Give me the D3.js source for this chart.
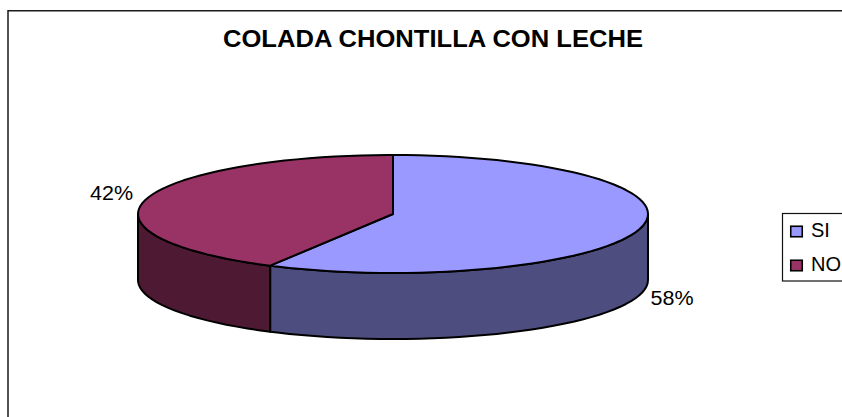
<!DOCTYPE html>
<html>
<head>
<meta charset="utf-8">
<script src="https://cdn.jsdelivr.net/npm/d3@7/dist/d3.min.js"></script>
<style>
html,body{margin:0;padding:0;background:#fff;overflow:hidden}
svg{display:block}
text{font-family:"Liberation Sans",Arial,sans-serif;fill:#000}
</style>
</head>
<body>
<svg id="chart" width="842" height="417"></svg>
<script>
const title = "COLADA CHONTILLA CON LECHE";
const categories = ["SI", "NO"];
const shares = [58, 42];
const topColors = ["#9999ff", "#993366"];
const sideColors = ["#4d4d80", "#4d1933"];

const svg = d3.select("#chart");

// Chart frame: top and left edges sit inside the window, the rest runs off it
svg.append("path")
  .attr("d", "M8,417V10.75H842")
  .attr("fill", "none").attr("stroke", "#1a1a1a").attr("stroke-width", 1.5);

svg.append("text").attr("x", 433).attr("y", 47)
  .attr("text-anchor", "middle").attr("font-size", 23).attr("font-weight", "bold")
  .attr("textLength", 420).attr("lengthAdjust", "spacingAndGlyphs")
  .text(title);

// Tilted disc: unit-circle coordinates mapped onto the ellipse through linear scales
const cx = 393, cy = 214, rx = 255, ry = 59, depth = 66;
const sx = d3.scaleLinear().domain([-1, 1]).range([cx - rx, cx + rx]);
const sy = d3.scaleLinear().domain([-1, 1]).range([cy - ry, cy + ry]);

const pie = d3.pie().sort(null).value(d => d.v);
const slices = pie(categories.map((c, i) => ({c, v: shares[i], i})));

const step = Math.PI / 60;
const rimPoints = (a0, a1) => {
  const pts = d3.range(a0, a1, step);
  pts.push(a1);
  return pts;
};
const px = a => sx(Math.sin(a));
const py = a => sy(-Math.cos(a));
const line = d3.line().x(d => d[0]).y(d => d[1]);

// Outer walls: only the part of the rim facing the viewer (angles from 90° to 270°)
slices.forEach(s => {
  const a0 = Math.max(s.startAngle, Math.PI / 2);
  const a1 = Math.min(s.endAngle, 3 * Math.PI / 2);
  if (a1 <= a0) return;
  const upper = rimPoints(a0, a1).map(a => [px(a), py(a)]);
  const lower = upper.slice().reverse().map(p => [p[0], p[1] + depth]);
  svg.append("path")
    .attr("d", line(upper.concat(lower)) + "Z")
    .attr("fill", sideColors[s.data.i])
    .attr("stroke", "#000").attr("stroke-width", 2).attr("stroke-linejoin", "round");
});

// Top face of each slice
slices.forEach(s => {
  const rim = rimPoints(s.startAngle, s.endAngle).map(a => [px(a), py(a)]);
  svg.append("path")
    .attr("d", line([[sx(0), sy(0)]].concat(rim)) + "Z")
    .attr("fill", topColors[s.data.i])
    .attr("stroke", "#000").attr("stroke-width", 2).attr("stroke-linejoin", "round");
});

// Percentage labels
const labelPos = [[672, 304.5], [111.5, 200]];
slices.forEach((s, k) => {
  svg.append("text").attr("x", labelPos[k][0]).attr("y", labelPos[k][1])
    .attr("text-anchor", "middle").attr("font-size", 20)
    .attr("textLength", 43).attr("lengthAdjust", "spacingAndGlyphs")
    .text(shares[k] + "%");
});

// Legend, clipped by the right edge of the window
svg.append("rect").attr("x", 782.5).attr("y", 213.5).attr("width", 80).attr("height", 67.5)
  .attr("fill", "#fff").attr("stroke", "#111").attr("stroke-width", 1.2);
categories.forEach((c, i) => {
  const y = 226 + i * 34;
  svg.append("rect").attr("x", 790.75).attr("y", y + 0.25).attr("width", 11.5).attr("height", 10.5)
    .attr("fill", topColors[i]).attr("stroke", "#000").attr("stroke-width", 1.6);
  svg.append("text").attr("x", 811).attr("y", y + 10.5).attr("font-size", 20).text(c);
});
</script>
</body>
</html>
